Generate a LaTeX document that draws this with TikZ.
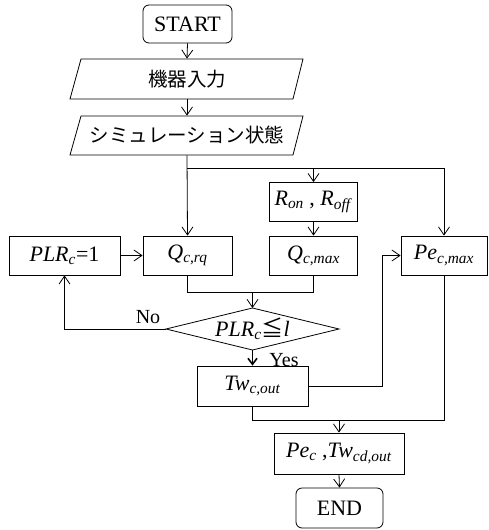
\documentclass[tikz,border=0pt]{standalone}
\usepackage{fontspec}
\setmainfont{Liberation Serif}
\newfontfamily\jp{Noto Sans CJK JP}
\usetikzlibrary{arrows.meta,calc}
\newcommand{\sbi}[1]{\textsubscript{\textit{#1}}}
\begin{document}
\begin{tikzpicture}[x=1pt,y=-1pt,
  line width=0.8pt,
  >={Straight Barb[length=8pt,width=11pt]},
  box/.style={draw, inner sep=0pt, minimum height=39pt, font=\fontsize{22}{26}\selectfont},
  term/.style={box, rounded corners=6pt},
  plain/.style={inner sep=0pt, minimum height=40pt, font=\jp\fontsize{19.5}{22}\selectfont},
  lbl/.style={inner sep=0pt, font=\fontsize{20}{24}\selectfont}]
\useasboundingbox (0,0) rectangle (488,530);
% nodes
\node[term, minimum width=89pt, minimum height=38pt] (start) at (187.5,24) {START};
\node[plain, minimum width=222pt] (in1) at (187,79) {機器入力};
\node[plain, minimum width=222pt, minimum height=39pt] (in2) at (187,135.5) {シミュレーション状態};
\draw (70,99) -- (81,59) -- (303,59) -- (293,99) -- cycle;
\draw (70,155) -- (81,116) -- (303,116) -- (293,155) -- cycle;
\node[box, minimum width=88pt] (ron) at (313.5,202) {\textit{R}\sbi{on} , \textit{R}\sbi{off}};
\node[box, minimum width=89pt] (qrq) at (187.5,255.5) {\textit{Q}\sbi{c,rq}};
\node[box, minimum width=88pt] (qmax) at (313.5,255.5) {\textit{Q}\sbi{c,max}};
\node[box, minimum width=111pt] (plr) at (64.5,255.5) {\textit{PLR}\sbi{c}=1};
\node[box, minimum width=86pt] (pemax) at (444,255.5) {\textit{Pe}\sbi{c,max}};
\coordinate (diaW) at (166,329);
\coordinate (diaN) at (252.5,308);
\coordinate (diaE) at (339,329);
\coordinate (diaS) at (252.5,350);
\draw (diaW) -- (diaN) -- (diaE) -- (diaS) -- cycle;
\node[inner sep=0pt, font=\fontsize{22}{26}\selectfont] (dia) at (252.5,329) {\textit{PLR}\sbi{c}{\jp ≦}\textit{l}};
\node[box, minimum width=111pt, minimum height=40pt] (tw) at (252.5,386) {\textit{Tw}\sbi{c,out}};
\node[box, minimum width=130pt, minimum height=41pt] (pec) at (339,453.5) {\textit{Pe}\sbi{c} ,\textit{Tw}\sbi{cd,out}};
\node[term, minimum width=87pt, minimum height=40pt] (end) at (339.5,508) {END};
\node[lbl] (no) at (148,317) {No};
\node[lbl] (yes) at (284,360) {Yes};
% connectors
\draw[->] (start.south) -- (in1.north);
\draw[->] (in1.south) -- (in2.north);
\coordinate (j1) at ($(in2.south)+(0,13)$);
\draw[->] (in2.south) -- (qrq.north);
\draw[->] (j1) -| (pemax.north);
\draw[->] (ron.north |- j1) -- (ron.north);
\draw[->] (ron.south) -- (qmax.north);
\draw[->] (plr.east) -- (qrq.west);
\coordinate (j2) at ($(qrq.south)+(0,17)$);
\draw (qrq.south) -- (j2) -| (qmax.south);
\draw[->] (diaN |- j2) -- (diaN);
\draw[->] (diaW) -| (plr.south);
\draw[->, line width=1.6pt, >={Straight Barb[length=6pt,width=9pt]}] (diaS) -- (tw.north);
\draw[->] (tw.east) -- ++(74,0) |- (pemax.west);
\coordinate (j3) at (252.5,420);
\draw (tw.south) -- (j3) -| (pemax.south);
\draw[->] (pec.north |- j3) -- (pec.north);
\draw[->] (pec.south) -- (end.north);
\end{tikzpicture}
\end{document}
